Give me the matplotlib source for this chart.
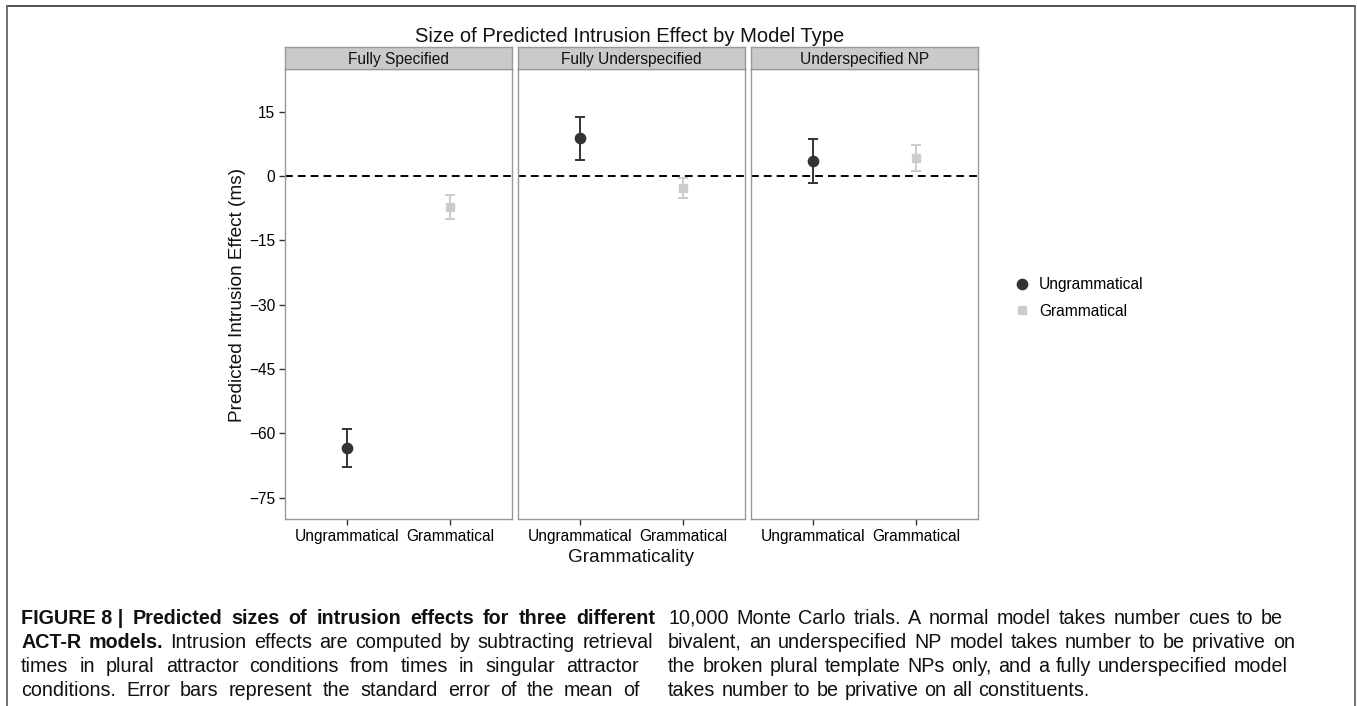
import matplotlib
matplotlib.use('Agg')
import matplotlib.pyplot as plt
from matplotlib.lines import Line2D

plt.rcParams['font.family'] = ['Liberation Sans', 'DejaVu Sans']

W, H = 1357, 706

panels = ['Fully Specified', 'Fully Underspecified', 'Underspecified NP']
conditions = ['Ungrammatical', 'Grammatical']
means = {'Ungrammatical': [-63.4, 8.8, 3.6],
         'Grammatical': [-7.2, -2.8, 4.3]}
errors = {'Ungrammatical': [4.5, 5.0, 5.1],
          'Grammatical': [2.8, 2.4, 3.0]}
yticks = [15, 0, -15, -30, -45, -60, -75]

styles = {'Ungrammatical': dict(color='#333333', marker='o', ms=7.4),
          'Grammatical': dict(color='#cccccc', marker='s', ms=6.4)}

caption_left = [
    [('FIGURE 8 |', True), ('Predicted', True), ('sizes', True), ('of', True), ('intrusion', True),
     ('effects', True), ('for', True), ('three', True), ('different', True)],
    [('ACT-R', True), ('models.', True), ('Intrusion', False), ('effects', False), ('are', False),
     ('computed', False), ('by', False), ('subtracting', False), ('retrieval', False)],
    [(w, False) for w in 'times in plural attractor conditions from times in singular attractor'.split()],
    [(w, False) for w in 'conditions. Error bars represent the standard error of the mean of'.split()],
]
caption_right = [
    [(w, False) for w in '10,000 Monte Carlo trials. A normal model takes number cues to be'.split()],
    [(w, False) for w in 'bivalent, an underspecified NP model takes number to be privative on'.split()],
    [(w, False) for w in 'the broken plural template NPs only, and a fully underspecified model'.split()],
    [(w, False) for w in 'takes number to be privative on all constituents.'.split()],
]

cap_size = 14.2

fig = plt.figure(figsize=(W / 100, H / 100), dpi=100)
fig.patch.set_facecolor('white')


def fx(x):
    return x / W


def fy(y):
    return 1 - y / H


# page frame
fig.add_artist(Line2D([fx(7), fx(1355)], [fy(6), fy(6)], color='#444444', lw=1.3))
fig.add_artist(Line2D([fx(7), fx(7)], [fy(6), fy(706)], color='#666666', lw=1.3))
fig.add_artist(Line2D([fx(1355), fx(1355)], [fy(6), fy(706)], color='#666666', lw=1.3))

lefts = [285, 518, 751]
pw, top, bot, strip_top = 227, 69, 519, 47
axes = []
for i, name in enumerate(panels):
    ax = fig.add_axes([fx(lefts[i]), fy(bot), pw / W, (bot - top) / H])
    for j, cond in enumerate(conditions):
        st = styles[cond]
        ax.errorbar([j + 1], [means[cond][i]], yerr=[errors[cond][i]], fmt=st['marker'],
                    color=st['color'], ms=st['ms'], capsize=3.6, elinewidth=1.4,
                    capthick=1.4, label=cond, zorder=3)
    ax.axhline(0, color='black', lw=1.4, ls=(0, (4, 2.6)), zorder=2)
    ax.set_xlim(0.4, 2.6)
    ax.set_ylim(-80, 25)
    ax.set_xticks([1, 2])
    ax.set_xticklabels(conditions, fontsize=11.2)
    ax.set_yticks(yticks)
    ax.set_yticklabels([str(v).replace('-', '\u2212') for v in yticks], fontsize=11.2)
    ax.tick_params(length=4, width=1, color='#333333', pad=3)
    if i > 0:
        ax.tick_params(axis='y', left=False, labelleft=False)
    for s in ax.spines.values():
        s.set_color('#999999')
        s.set_linewidth(1)
    axes.append(ax)

    sax = fig.add_axes([fx(lefts[i]), fy(top), pw / W, (top - strip_top) / H])
    sax.set_facecolor('#cacaca')
    sax.set_xticks([])
    sax.set_yticks([])
    for s in sax.spines.values():
        s.set_color('#999999')
        s.set_linewidth(1)
    sax.text(0.5, 0.45, name, ha='center', va='center', fontsize=11.2, color='#111111',
             transform=sax.transAxes)

fig.text(fx(630), fy(37), 'Size of Predicted Intrusion Effect by Model Type',
         ha='center', va='center', fontsize=14.5, color='#111111')
fig.text(fx(237), fy(295), 'Predicted Intrusion Effect (ms)', rotation=90,
         ha='center', va='center', fontsize=13.7, color='#111111')
fig.text(fx(631), fy(557), 'Grammaticality', ha='center', va='center',
         fontsize=13.7, color='#111111')

hs = [Line2D([], [], ls='none', marker=styles[c]['marker'], color=styles[c]['color'],
             ms=styles[c]['ms']) for c in conditions]
fig.legend(hs, conditions, loc='center left', bbox_to_anchor=(fx(1000), fy(298)),
           frameon=False, fontsize=11.2, handletextpad=0.6, labelspacing=0.75,
           handlelength=1.0)

# justified caption, word by word
fig.canvas.draw()
renderer = fig.canvas.get_renderer()


def word_width(w, bold):
    t = fig.text(0, 0, w, fontsize=cap_size, fontweight='bold' if bold else 'normal')
    wd = t.get_window_extent(renderer).width
    t.remove()
    return wd


def put_line(words, x0, x1, base, justify=True):
    widths = [word_width(w, b) for w, b in words]
    if justify and len(words) > 1:
        gap = (x1 - x0 - sum(widths)) / (len(words) - 1)
    else:
        gap = cap_size * 100 / 72 * 0.3
    x = x0
    for (w, b), wd in zip(words, widths):
        fig.text(fx(x), fy(base), w, fontsize=cap_size, va='baseline', ha='left',
                 fontweight='bold' if b else 'normal', color='#111111')
        x += wd + gap


bases = [624, 648, 672, 696]
left_ends = [655, 653, 639, 640]
for words, x1, b in zip(caption_left, left_ends, bases):
    put_line(words, 21, x1, b)

right_ends = [1283, 1295, 1288, None]
for words, x1, b in zip(caption_right, right_ends, bases):
    put_line(words, 668, x1, b, justify=x1 is not None)

fig.savefig('out.png', dpi=100, facecolor='white')
